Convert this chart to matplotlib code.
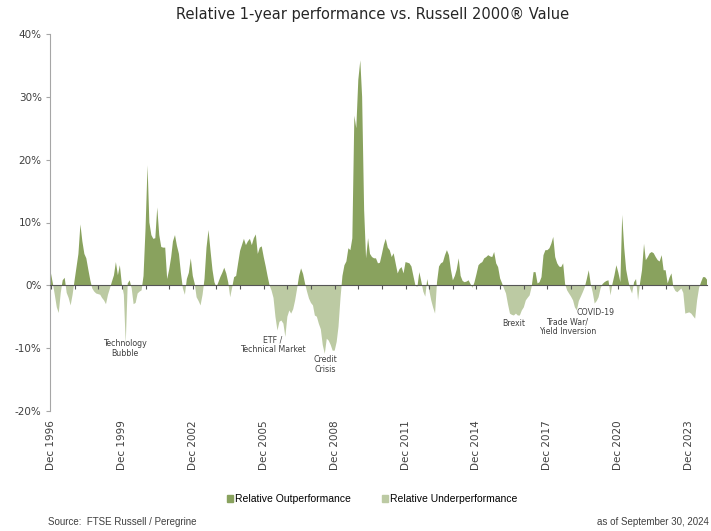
import numpy as np
import pandas as pd
import matplotlib
matplotlib.use("Agg")
import matplotlib.pyplot as plt
from matplotlib.patches import Patch

# ── Data: relative 1-year performance (%), monthly, Dec 1996 .. Sep 2024 ──────
dates = pd.date_range("1996-12-31", "2024-09-30", freq="ME")

rel_1996 = [1.9]
rel_1997 = [0.2, -1.5, -3.5, -4.4, -1.2, 0.8, 1.2, -1.2, -2.0, -3.2, -1.5, 0.8]
rel_1998 = [3.0, 5.0, 9.7, 7.0, 5.0, 4.3, 2.5, 0.8, -0.5, -1.0, -1.3, -1.4]
rel_1999 = [-1.5, -2.0, -2.4, -3.0, -1.5, -0.5, 0.6, 1.6, 3.7, 1.6, 3.2, 0.2]
rel_2000 = [-1.5, -9.3, 0.3, 0.8, -0.5, -3.0, -2.8, -1.3, -1.0, -0.8, 1.5, 9.0]
rel_2001 = [19.1, 10.0, 8.0, 7.4, 7.5, 12.4, 8.0, 6.1, 6.0, 6.0, 1.0, 2.5]
rel_2002 = [4.5, 7.0, 8.0, 6.3, 5.0, 2.0, -0.5, -1.5, 1.0, 2.0, 4.3, 1.5]
rel_2003 = [0.2, -1.9, -2.5, -3.2, -1.5, 1.0, 6.0, 8.8, 5.6, 2.5, 0.5, -0.3]
rel_2004 = [0.5, 1.3, 2.0, 2.8, 1.9, 0.5, -1.9, -0.3, 1.3, 1.5, 3.5, 5.5]
rel_2005 = [6.5, 7.4, 6.4, 7.0, 7.4, 6.4, 7.5, 8.1, 5.0, 6.0, 6.2, 4.5]
rel_2006 = [3.0, 1.5, 0.0, -0.8, -2.0, -5.0, -7.2, -5.8, -5.6, -6.1, -8.2, -5.0]
rel_2007 = [-4.0, -4.5, -3.8, -2.4, -0.5, 1.5, 2.7, 1.8, 0.3, -1.0, -2.1, -2.8]
rel_2008 = [-3.2, -4.8, -5.0, -6.1, -7.0, -9.5, -10.9, -8.5, -8.8, -9.5, -10.4, -10.4]
rel_2009 = [-9.0, -6.6, -2.0, 1.5, 3.2, 3.8, 5.9, 5.6, 7.5, 27.0, 25.0, 32.7]
rel_2010 = [35.8, 30.0, 12.0, 4.3, 7.5, 5.0, 4.5, 4.3, 4.3, 3.5, 3.6, 5.0]
rel_2011 = [6.5, 7.4, 6.0, 5.6, 4.5, 5.1, 3.5, 1.9, 2.6, 2.9, 1.9, 3.7]
rel_2012 = [3.6, 3.5, 3.0, 1.5, 0.0, -0.3, 2.1, 0.6, -1.0, -1.8, 1.0, -0.8]
rel_2013 = [-2.4, -3.5, -4.5, 0.5, 3.0, 3.5, 3.7, 4.8, 5.6, 4.8, 2.5, 0.8]
rel_2014 = [1.5, 2.5, 4.3, 1.5, 0.7, 0.5, 0.6, 0.8, 0.2, -0.4, 0.5, 1.8]
rel_2015 = [3.2, 3.5, 3.7, 4.3, 4.5, 4.8, 4.6, 4.5, 5.3, 3.5, 2.9, 1.1]
rel_2016 = [0.3, -0.5, -1.3, -3.0, -4.5, -4.7, -4.8, -4.5, -4.8, -4.8, -4.0, -3.5]
rel_2017 = [-2.4, -2.0, -1.6, -0.3, 2.1, 2.1, 0.3, 0.5, 1.3, 4.8, 5.6, 5.6]
rel_2018 = [5.9, 6.6, 7.7, 4.5, 3.5, 3.0, 2.9, 3.5, 0.2, -0.8, -1.3, -1.8]
rel_2019 = [-2.4, -3.5, -4.0, -2.5, -1.8, -1.1, -0.3, 1.0, 2.4, 0.2, -1.1, -2.9]
rel_2020 = [-2.5, -1.9, -0.5, 0.2, 0.5, 0.7, 0.8, -1.6, 0.2, 1.6, 3.2, 2.0]
rel_2021 = [0.5, 11.2, 6.0, 2.5, 0.8, -0.5, -1.3, 0.5, 1.0, -2.4, 0.3, 2.4]
rel_2022 = [6.6, 4.0, 4.5, 5.1, 5.3, 5.1, 4.5, 4.0, 3.8, 4.8, 2.4, 2.4]
rel_2023 = [0.3, 1.2, 1.9, -0.3, -0.9, -1.1, -0.8, -0.5, -1.2, -4.5, -4.4, -4.3]
rel_2024 = [-4.5, -4.9, -5.3, -2.4, -0.4, 0.5, 1.3, 1.3, 0.9]

rel = np.array(
    rel_1996 + rel_1997 + rel_1998 + rel_1999 + rel_2000 + rel_2001 + rel_2002
    + rel_2003 + rel_2004 + rel_2005 + rel_2006 + rel_2007 + rel_2008 + rel_2009
    + rel_2010 + rel_2011 + rel_2012 + rel_2013 + rel_2014 + rel_2015 + rel_2016
    + rel_2017 + rel_2018 + rel_2019 + rel_2020 + rel_2021 + rel_2022 + rel_2023
    + rel_2024
)

label_years = [1996, 1999, 2002, 2005, 2008, 2011, 2014, 2017, 2020, 2023]
y_ticks = [-20, -10, 0, 10, 20, 30, 40]

events = ["Technology\nBubble", "ETF /\nTechnical Market", "Credit\nCrisis",
          "Brexit", "Trade War/\nYield Inversion", "COVID-19"]
event_dates = ["2000-02-15", "2006-05-15", "2008-08-15",
               "2016-08-01", "2018-11-01", "2020-01-15"]
event_y = [-10.1, -9.4, -12.6, -6.1, -6.6, -4.3]

# ── Style ─────────────────────────────────────────────────────────────────────
OUT_C = "#89a25e"
UND_C = "#bccaa3"
TXT_C = "#404040"

fig = plt.figure(figsize=(7.11, 5.31), dpi=100)
ax = fig.add_axes([50 / 711, 1 - 411 / 531, 657 / 711, 377 / 531])

ax.fill_between(dates, rel, 0, where=rel >= 0, interpolate=True,
                color=OUT_C, lw=0)
ax.fill_between(dates, rel, 0, where=rel <= 0, interpolate=True,
                color=UND_C, lw=0)

ax.set_xlim(dates[0] - pd.Timedelta(days=15), dates[-1])
ax.set_ylim(-20, 40)

# y axis
ax.set_yticks(y_ticks)
ax.set_yticklabels([f"{v}%" for v in y_ticks])
ax.tick_params(axis="y", length=3, color="#a6a6a6", labelsize=7.5,
               labelcolor=TXT_C, pad=3)
ax.spines["left"].set_color("#a6a6a6")
ax.spines["top"].set_visible(False)
ax.spines["right"].set_visible(False)

# zero line with yearly ticks
ax.spines["bottom"].set_position(("data", 0))
ax.spines["bottom"].set_color("#555555")
ax.spines["bottom"].set_zorder(3)
year_ticks = [pd.Timestamp(f"{y}-12-31") for y in range(1996, 2024)]
ax.set_xticks(year_ticks)
ax.tick_params(axis="x", length=3, color="#555555", labelbottom=False)

for y in label_years:
    ax.text(pd.Timestamp(f"{y}-12-31"), -0.024, f"Dec {y}",
            transform=ax.get_xaxis_transform(), rotation=90,
            ha="center", va="top", fontsize=7.5, color=TXT_C)

for lab, d, yv in zip(events, event_dates, event_y):
    ax.text(pd.Timestamp(d), yv, lab, ha="center", va="center",
            fontsize=5.7, color=TXT_C, linespacing=1.1)

fig.suptitle("Relative 1-year performance vs. Russell 2000® Value",
             x=373 / 711, y=1 - 14 / 531, va="center",
             fontsize=10.5, color="#262626")

handles = [Patch(color=OUT_C, label="Relative Outperformance"),
           Patch(color=UND_C, label="Relative Underperformance")]
fig.legend(handles=handles, loc="center", bbox_to_anchor=(372 / 711, 1 - 499 / 531),
           ncol=2, frameon=False, handlelength=0.6,
           handleheight=0.6, handletextpad=0.15, columnspacing=3.0,
           prop={"family": "Liberation Sans", "size": 7.5})

fig.text(48 / 711, 1 - 522 / 531, "Source:  FTSE Russell / Peregrine",
         ha="left", va="center", fontsize=7, color=TXT_C,
         family="Liberation Sans")
fig.text(709 / 711, 1 - 522 / 531, "as of September 30, 2024",
         ha="right", va="center", fontsize=7, color=TXT_C,
         family="Liberation Sans")

fig.savefig("out.png", dpi=100)
